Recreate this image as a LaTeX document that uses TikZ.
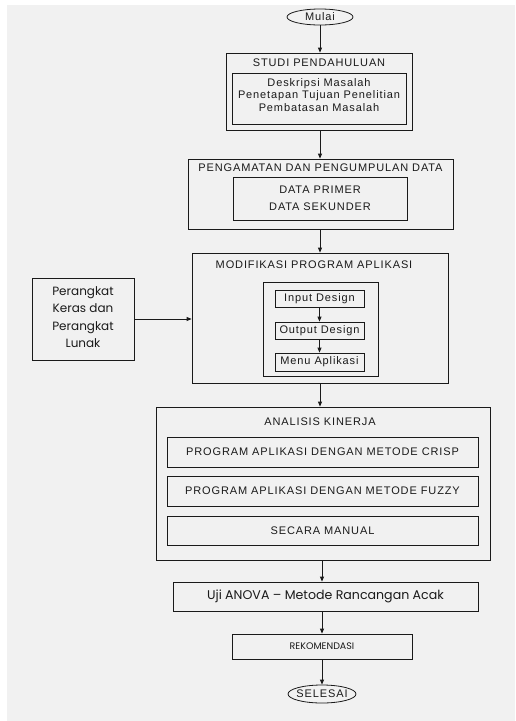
\documentclass[tikz,border=0pt]{standalone}
\usepackage{fontspec}
\setmainfont[LetterSpace=8]{Liberation Sans}
\newfontfamily\gothic{Poppins}
\usetikzlibrary{arrows.meta,shapes.geometric}
\definecolor{bg}{HTML}{F1F1F1}
\definecolor{ink}{HTML}{1A1A1A}
\tikzset{
  box/.style={draw=ink,line width=0.8pt,rectangle,inner sep=0pt},
  oval/.style={draw=ink,line width=0.8pt,ellipse,inner sep=0pt},
  txt/.style={text=ink,font=\fontsize{11}{12.5}\selectfont,inner sep=0pt,align=center},
  arr/.style={draw=ink,line width=0.8pt,-{Triangle[length=5pt,width=4pt]}}
}
\begin{document}
\begin{tikzpicture}[x=1pt,y=-1pt]
\useasboundingbox (0,0) rectangle (515,721);
\fill[white] (0,0) rectangle (515,721);
\fill[bg] (7,5) rectangle (515,721);

% start
\node[oval,minimum width=66pt,minimum height=16pt] (mulai) at (320,17) {};
\node[txt] (mulaiT) at (320,17) {Mulai};

% studi
\node[box,minimum width=186pt,minimum height=77pt] (studi) at (319,91.5) {};
\node[txt] (studiT) at (319,63) {STUDI PENDAHULUAN};
\node[box,minimum width=174pt,minimum height=51pt] (studiIn) at (319,98.5) {};
\node[txt,font=\fontsize{11}{12.8}\selectfont] (studiInT) at (319,95) {Deskripsi Masalah\\Penetapan Tujuan Penelitian\\Pembatasan Masalah};

% pengamatan
\node[box,minimum width=265pt,minimum height=70pt] (peng) at (320.5,194) {};
\node[txt] (pengT) at (320.5,168) {PENGAMATAN DAN PENGUMPULAN DATA};
\node[box,minimum width=174pt,minimum height=43pt] (pengIn) at (320,198.5) {};
\node[txt,font=\fontsize{11}{17}\selectfont] (pengInT) at (320,198) {DATA PRIMER\\DATA SEKUNDER};

% modifikasi
\node[box,minimum width=256pt,minimum height=130pt] (modif) at (320,318) {};
\node[txt] (modifT) at (314,265) {MODIFIKASI PROGRAM APLIKASI};
\node[box,minimum width=115pt,minimum height=94pt] (modIn) at (320.5,329) {};
\node[box,minimum width=89pt,minimum height=17pt] (inp) at (319.5,298.5) {};
\node[txt] (inpT) at (319.5,298.5) {Input Design};
\node[box,minimum width=89pt,minimum height=17pt] (outp) at (319.5,330.5) {};
\node[txt] (outpT) at (319.5,330.5) {Output Design};
\node[box,minimum width=89pt,minimum height=18pt] (menu) at (319.5,362) {};
\node[txt] (menuT) at (319.5,362) {Menu Aplikasi};
\draw[arr] (inp.south) -- (outp.north);
\draw[arr] (outp.south) -- (menu.north);

% perangkat
\node[box,minimum width=102pt,minimum height=82pt] (per) at (83,319) {};
\node[txt,font=\gothic\fontsize{12}{17.3}\selectfont] (perT) at (83,317) {Perangkat\\Keras dan\\Perangkat\\Lunak};
\draw[arr] (per.east) -- (per.east -| modif.west);

% analisis
\node[box,minimum width=334pt,minimum height=153pt] (anal) at (323,483.5) {};
\node[txt] (analT) at (320,422) {ANALISIS KINERJA};
\node[box,minimum width=311pt,minimum height=30pt] (crisp) at (322.5,452) {};
\node[txt] (crispT) at (322.5,452) {PROGRAM APLIKASI DENGAN METODE CRISP};
\node[box,minimum width=311pt,minimum height=30pt] (fuzzy) at (322.5,491) {};
\node[txt] (fuzzyT) at (322.5,491) {PROGRAM APLIKASI DENGAN METODE FUZZY};
\node[box,minimum width=311pt,minimum height=29pt] (manual) at (322.5,530.5) {};
\node[txt] (manualT) at (322.5,530.5) {SECARA MANUAL};

% uji
\node[box,minimum width=305pt,minimum height=29pt] (uji) at (325.5,596.5) {};
\node[txt,font=\gothic\fontsize{12.6}{13}\selectfont] (ujiT) at (325.5,596.5) {Uji ANOVA – Metode Rancangan Acak};

% rekomendasi
\node[box,minimum width=180pt,minimum height=25pt] (rek) at (322,646.5) {};
\node[txt,font=\gothic\fontsize{9.5}{10}\selectfont] (rekT) at (322,646.5) {REKOMENDASI};

% end
\node[oval,minimum width=68pt,minimum height=18pt] (selesai) at (322,694) {};
\node[txt] (selesaiT) at (322,694) {SELESAI};

% main flow
\draw[arr] (mulai.south) -- (mulai.south |- studi.north);
\draw[arr] (studi.south -| mulai) -- (peng.north -| mulai);
\draw[arr] (peng.south -| mulai) -- (modif.north -| mulai);
\draw[arr] (modif.south -| mulai) -- (anal.north -| mulai);
\draw[arr] (anal.south -| selesai) -- (uji.north -| selesai);
\draw[arr] (uji.south -| selesai) -- (rek.north -| selesai);
\draw[arr] (rek.south -| selesai) -- (selesai.north);
\end{tikzpicture}
\end{document}
